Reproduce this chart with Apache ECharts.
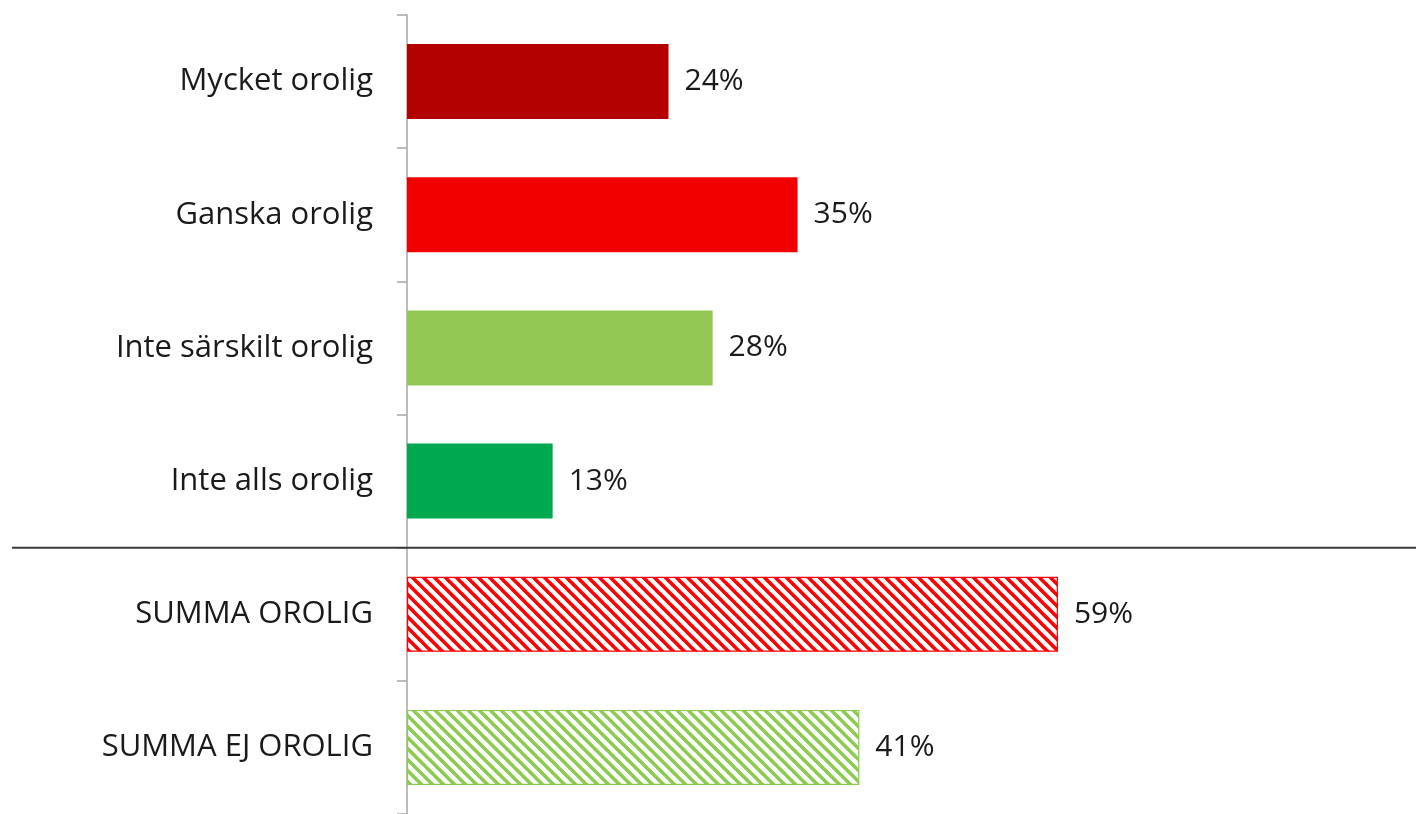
<!DOCTYPE html>
<html>
<head>
<meta charset="utf-8">
<script src="https://cdn.jsdelivr.net/npm/echarts@6/dist/echarts.min.js"></script>
<style>
html,body{margin:0;padding:0;background:#fff;}
#c{width:1416px;height:814px;}
</style>
</head>
<body>
<div id="c"></div>
<script>
var categories = ['Mycket orolig', 'Ganska orolig', 'Inte särskilt orolig', 'Inte alls orolig', 'SUMMA OROLIG', 'SUMMA EJ OROLIG'];
var values = [23.7, 35.4, 27.7, 13.2, 59.0, 41.0];
var barColors = ['#B30000', '#F20000', '#92C853', '#00A94F', '#FF0000', '#8CCB50'];
var hatched = [false, false, false, false, true, true];
var separatorAfter = 3; // line between 'Inte alls orolig' and 'SUMMA OROLIG'

function hatch(color) {
  var s = 11;
  var cv = document.createElement('canvas');
  cv.width = s; cv.height = s;
  var g = cv.getContext('2d');
  g.fillStyle = '#ffffff';
  g.fillRect(0, 0, s, s);
  g.strokeStyle = color;
  g.lineWidth = 3.6;
  for (var k = -1; k <= 1; k++) {
    g.beginPath();
    g.moveTo(-2, k * s - 2);
    g.lineTo(s + 2, k * s + s + 2);
    g.stroke();
  }
  return { image: cv, repeat: 'repeat' };
}

var data = values.map(function (v, i) {
  return {
    value: v,
    itemStyle: hatched[i]
      ? { color: hatch(barColors[i]), borderColor: barColors[i], borderWidth: 1.2 }
      : { color: barColors[i] }
  };
});

var chart = echarts.init(document.getElementById('c'));
chart.setOption({
  animation: false,
  backgroundColor: '#ffffff',
  grid: { left: 407, top: 15, width: 993, height: 802, containLabel: false },
  xAxis: {
    type: 'value', min: 0, max: 90, show: false
  },
  yAxis: {
    type: 'category',
    data: categories,
    inverse: true,
    axisLine: { show: true, lineStyle: { color: '#a6a6a6', width: 1.5 } },
    axisTick: { show: true, length: 10, lineStyle: { color: '#a6a6a6', width: 1.5 } },
    axisLabel: { margin: 34, fontFamily: 'Open Sans', fontSize: 31, color: '#1a1a1a' },
    splitLine: { show: false }
  },
  series: [{
    type: 'bar',
    data: data,
    barWidth: 75,
    label: {
      show: true,
      position: 'right',
      distance: 16,
      fontFamily: 'Open Sans',
      fontSize: 30,
      color: '#1a1a1a',
      formatter: function (p) { return Math.round(p.value) + '%'; }
    }
  }]
});

var y1 = chart.convertToPixel({ yAxisIndex: 0 }, categories[separatorAfter]);
var y2 = chart.convertToPixel({ yAxisIndex: 0 }, categories[separatorAfter + 1]);
var ySep = (y1 + y2) / 2;
chart.setOption({
  graphic: [{
    type: 'line',
    shape: { x1: 12, y1: ySep, x2: 1416, y2: ySep },
    style: { stroke: '#3a3a3a', lineWidth: 2 },
    z: 10
  }]
});
</script>
</body>
</html>
